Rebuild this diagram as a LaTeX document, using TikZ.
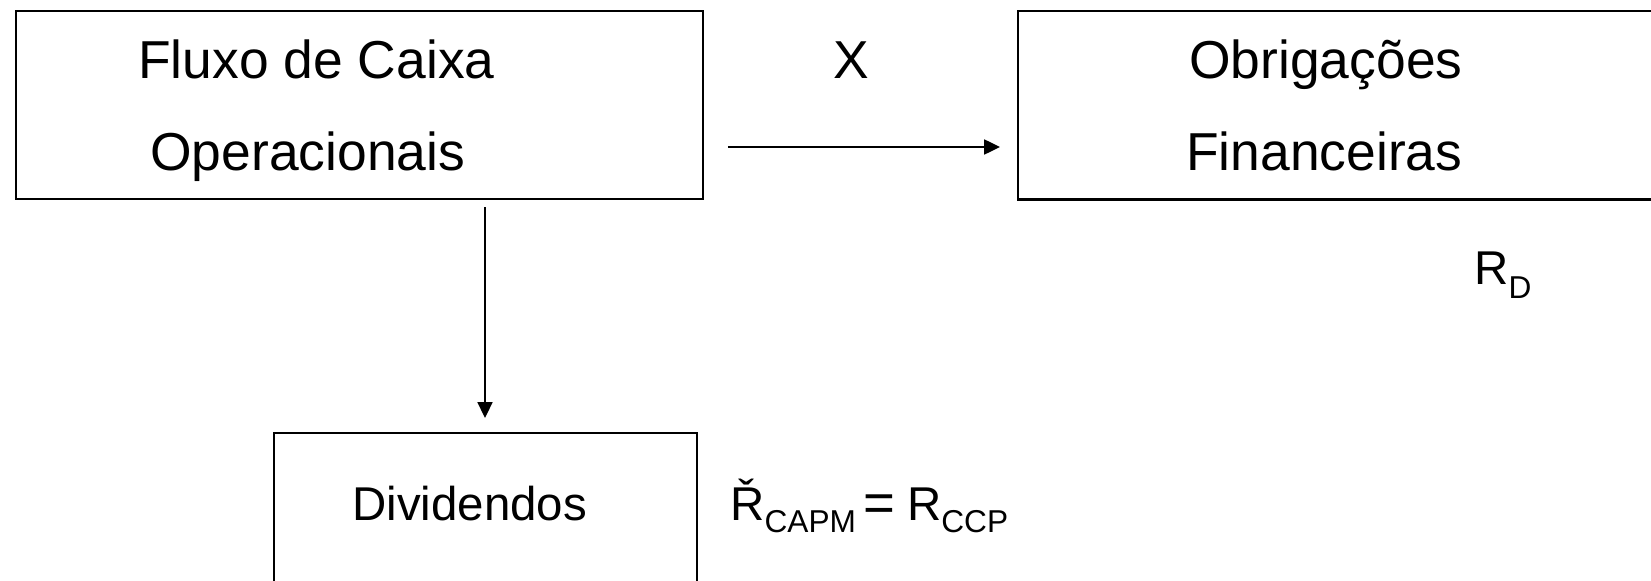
\documentclass[tikz,border=0pt]{standalone}
\usepackage{fontspec}
\setmainfont{Liberation Sans}
\usetikzlibrary{arrows.meta}
\tikzset{
  block/.style = {draw, line width=1.2pt, rectangle, inner sep=0pt},
  lbl/.style   = {anchor=base west, inner sep=0pt, font=\fontsize{30.4}{36}\selectfont},
  lblsm/.style = {anchor=base west, inner sep=0pt, font=\fontsize{27}{32}\selectfont},
  sig/.style   = {-{Triangle[length=9pt,width=8.5pt]}, line width=1.15pt},
}
\newcommand{\subtxt}[3]{\raisebox{-#1}{\fontsize{#2}{#2}\selectfont #3}}

\begin{document}
\begin{tikzpicture}[x=0.02cm,y=-0.02cm]
\clip (0,0) rectangle (1651,581);
% ---- boxes ----
\node[block, minimum width=13.74cm, minimum height=3.76cm] (fluxo) at (359.5,105) {};
\node[block, minimum width=13.64cm, minimum height=3.77cm] (obrig) at (1359,105.25) {};
\node[block, minimum width=8.46cm, minimum height=4cm] (divid) at (485.5,533) {};
% ---- texts ----
\node[lbl] (fluxo1) at (138,79) {Fluxo de Caixa};
\node[lbl] (fluxo2) at (150,171) {Operacionais};
\node[lbl] (vezes) at (833,79) {X};
\node[lbl] (obrig1) at (1189,79) {Obrigações};
\node[lbl] (obrig2) at (1186,171) {Financeiras};
\node[lblsm] (rd) at (1474,284) {R\subtxt{8.5pt}{18}{D}};
\node[lblsm] (divid1) at (352,520) {Dividendos};
\node[lblsm] (rcapm) at (730,520) {Ř\subtxt{7pt}{18}{CAPM}\hspace{4pt}\raisebox{-1pt}{\fontsize{31}{31}\selectfont =}\hspace{7pt}R\subtxt{7pt}{18}{CCP}};
% ---- connectors ----
\coordinate (hrow) at (0,147);
\coordinate (vcol) at (485,0);
\draw[sig, shorten <=0.48cm, shorten >=0.34cm] (fluxo.east |- hrow) -- (obrig.west |- hrow);
\draw[sig, shorten <=0.14cm, shorten >=0.28cm] (fluxo.south -| vcol) -- (divid.north -| vcol);
\end{tikzpicture}
\end{document}
